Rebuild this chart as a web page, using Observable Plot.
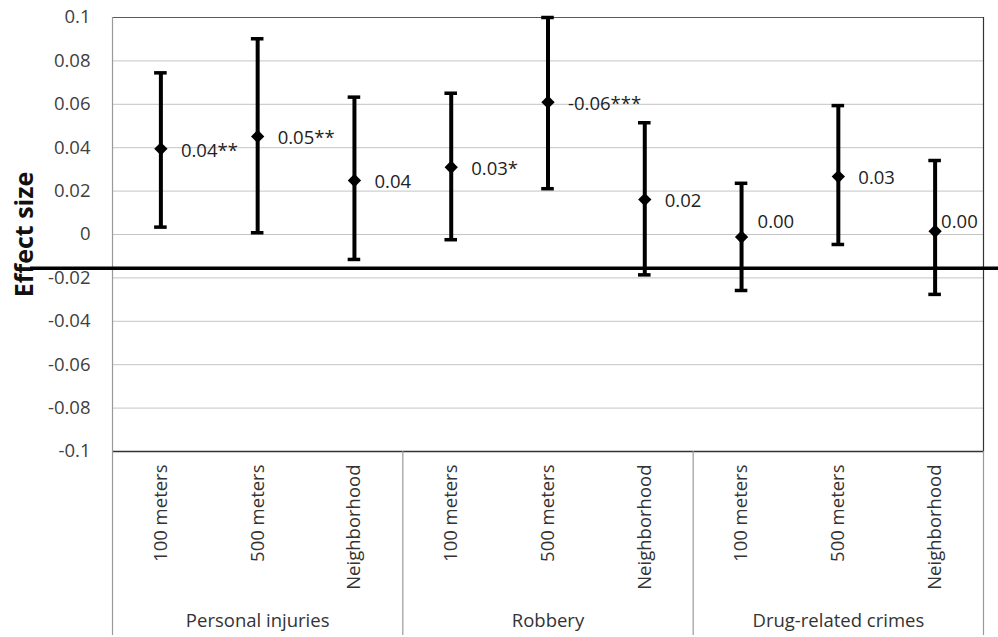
<!DOCTYPE html>
<html>
<head>
<meta charset="utf-8">
<script src="https://cdn.jsdelivr.net/npm/d3@7"></script>
<script src="https://cdn.jsdelivr.net/npm/@observablehq/plot@0.6"></script>
<style>
  html, body { margin: 0; padding: 0; background: #fff; }
  #chart { width: 998px; height: 637px; }
</style>
</head>
<body>
<div id="chart"></div>
<script>
// ---- data ----
const crimeTypes = ["Personal injuries", "Robbery", "Drug-related crimes"];
const scales = ["100 meters", "500 meters", "Neighborhood"];
const estimates = [0.0395, 0.0452, 0.0249, 0.0310, 0.0610, 0.0161, -0.0012, 0.0267, 0.0015];
const lowerCI  = [0.0034, 0.0008, -0.0115, -0.0024, 0.0211, -0.0186, -0.0258, -0.0046, -0.0276];
const upperCI  = [0.0745, 0.0902, 0.0633, 0.0651, 0.1000, 0.0515, 0.0236, 0.0594, 0.0341];
const valueLabels = ["0.04**", "0.05**", "0.04", "0.03*", "-0.06***", "0.02", "0.00", "0.03", "0.00"];
const referenceLine = -0.0155;
const yTicks = [-0.1, -0.08, -0.06, -0.04, -0.02, 0, 0.02, 0.04, 0.06, 0.08, 0.1];

// ---- table built from the arrays ----
const rows = [];
crimeTypes.forEach((g, gi) => scales.forEach((s, si) => {
  const i = gi * scales.length + si;
  rows.push({i, group: g, scale: s, est: estimates[i], lo: lowerCI[i], hi: upperCI[i], label: valueLabels[i]});
}));
const groupRows = crimeTypes.map((g, gi) => ({group: g, i: gi * scales.length + (scales.length - 1) / 2}));
const boundaries = d3.range(crimeTypes.length + 1).map(k => k * scales.length - 0.5);
const innerBoundaries = boundaries.slice(1, -1);

const FONT = "'Open Sans', sans-serif";
const fmt = d => String(+d.toFixed(2));
const capHalf = 0.065;
const labelSize = 18.5;

const chart = Plot.plot({
  width: 998,
  height: 637,
  marginLeft: 112,
  marginRight: 15,
  marginTop: 17,
  marginBottom: 186,
  style: {fontFamily: FONT, color: "#404040", background: "#fff"},
  x: {domain: [-0.5, rows.length - 0.5], axis: null},
  y: {domain: [-0.1, 0.1], axis: null},
  marks: [
    // horizontal gridlines
    Plot.ruleY(yTicks.slice(1, -1), {stroke: "#c4c4c4", strokeWidth: 1}),
    Plot.ruleY([0.1], {stroke: "#5a5a5a", strokeWidth: 1.2}),
    Plot.ruleY([-0.1], {stroke: "#333", strokeWidth: 1.3}),
    // left border (runs down through the category area)
    Plot.ruleX([boundaries[0]], {stroke: "#999", strokeWidth: 1.2, y1: 0.1, y2: -0.1, insetBottom: -184}),
    // right border
    Plot.ruleX([boundaries[boundaries.length - 1]], {stroke: "#333", strokeWidth: 1.2}),
    Plot.ruleX([boundaries[boundaries.length - 1]], {stroke: "#999", strokeWidth: 1.2, y1: -0.1, y2: -0.1, insetBottom: -184}),
    // group separators below the axis
    Plot.ruleX(innerBoundaries, {stroke: "#999", strokeWidth: 1.2, y1: -0.1, y2: -0.1, insetBottom: -184}),
    // y tick labels
    Plot.text(yTicks, {y: d => d, text: fmt, frameAnchor: "left", textAnchor: "end", lineAnchor: "middle", dx: -22, fontSize: labelSize, fill: "#404040"}),
    // y axis title
    Plot.text(["Effect size"], {frameAnchor: "left", rotate: -90, dx: -88, fontWeight: "bold", fontSize: 25, fill: "#111", lineAnchor: "middle", textAnchor: "middle"}),
    // error bars
    Plot.ruleX(rows, {x: "i", y1: "lo", y2: "hi", stroke: "#000", strokeWidth: 4}),
    Plot.ruleY(rows, {y: "lo", x1: d => d.i - capHalf, x2: d => d.i + capHalf, stroke: "#000", strokeWidth: 3.5}),
    Plot.ruleY(rows, {y: "hi", x1: d => d.i - capHalf, x2: d => d.i + capHalf, stroke: "#000", strokeWidth: 3.5}),
    // point estimates
    Plot.dot(rows, {x: "i", y: "est", symbol: "diamond2", r: 6, fill: "#000", stroke: "none"}),
    // value labels
    Plot.text(rows.filter(d => d.i !== 6 && d.i !== 8), {x: "i", y: "est", text: "label", textAnchor: "start", dx: 20, dy: 2, fontSize: labelSize, fill: "#222"}),
    Plot.text(rows.filter(d => d.i === 6), {x: "i", y: "est", text: "label", textAnchor: "start", dx: 16, dy: -15, fontSize: labelSize, fill: "#222"}),
    Plot.text(rows.filter(d => d.i === 8), {x: "i", y: "est", text: "label", textAnchor: "start", dx: 6, dy: -9, fontSize: labelSize, fill: "#222"}),
    // reference line (extends beyond the plot area)
    Plot.ruleY([referenceLine], {stroke: "#000", strokeWidth: 3.5, insetLeft: -82, insetRight: -20}),
    // category labels
    Plot.text(rows, {x: "i", y: () => -0.1, text: "scale", rotate: -90, textAnchor: "end", lineAnchor: "middle", dy: 13, fontSize: labelSize, fill: "#333"}),
    Plot.text(groupRows, {x: "i", y: () => -0.1, text: "group", textAnchor: "middle", lineAnchor: "middle", dy: 170, fontSize: labelSize, fill: "#333"})
  ]
});
document.getElementById("chart").appendChild(chart);
</script>
</body>
</html>
